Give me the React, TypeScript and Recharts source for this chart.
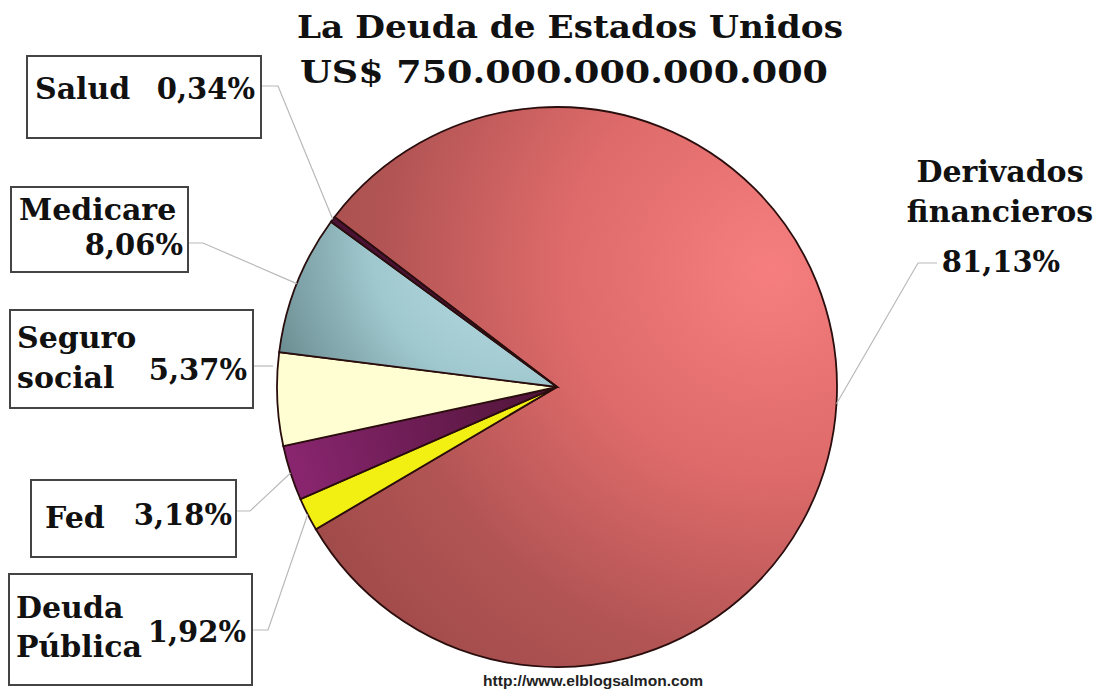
import React from 'react';
import { PieChart, Pie, Cell, Customized } from 'recharts';

// slices, clockwise from the Salud boundary
const sliceNames = ['Derivados financieros', 'Deuda Pública', 'Fed', 'Seguro social', 'Medicare', 'Salud'];
const nameLines = [['Derivados', 'financieros'], ['Deuda', 'Pública'], ['Fed'], ['Seguro', 'social'], ['Medicare'], ['Salud']];
const shares = [81.13, 1.92, 3.18, 5.37, 8.06, 0.34];
const sliceFills = ['url(#gDeriv)', '#f2ef12', 'url(#gFed)', '#fffdd2', 'url(#gMedi)', '#4a1234'];

const titleLines = ['La Deuda de Estados Unidos', 'US$ 750.000.000.000.000'];
const sourceText = 'http://www.elblogsalmon.com';

const data = sliceNames.map((name, i) => ({ name, value: shares[i] }));

const serif = '"DejaVu Serif", Georgia, serif';
const RADIAN = Math.PI / 180;

// label boxes and connector elbows (layout only)
const labelLayout = [
  { box: null, lines: [[1000, 182], [1000, 222]], pct: [1001, 272, 'middle'], from: [937, 263], elbow: [918, 263], toSlice: true },
  { box: [9, 574, 243, 111], lines: [[16, 618], [16, 657]], pct: [246, 642, 'end'], from: [252, 630], elbow: [268, 630], toSlice: true },
  { box: [31, 480, 205, 77], lines: [[45, 528]], pct: [232, 525, 'end'], from: [236, 511], elbow: [250, 511], toSlice: true },
  { box: [10, 310, 243, 98], lines: [[17, 348], [17, 388]], pct: [247, 380, 'end'], from: [253, 366], elbow: [273, 366], toSlice: false },
  { box: [11, 187, 177, 85], lines: [[19, 220]], pct: [183, 255, 'end'], from: [188, 243], elbow: [203, 243], toSlice: true },
  { box: [27, 56, 234, 82], lines: [[35, 99]], pct: [255, 99, 'end'], from: [261, 86], elbow: [278, 86], toSlice: true },
];

const fmtPct = (v: number) => v.toFixed(2).replace('.', ',') + '%';

const renderLabel = (props: any) => {
  const { cx, cy, midAngle, outerRadius, index, value } = props;
  const lay = labelLayout[index];
  const px = cx + outerRadius * Math.cos(-midAngle * RADIAN);
  const py = cy + outerRadius * Math.sin(-midAngle * RADIAN);
  const pts = [lay.from, lay.elbow];
  if (lay.toSlice) pts.push([px, py]);
  return (
    <g key={`lab-${index}`}>
      <polyline points={pts.map((p) => p.join(',')).join(' ')} fill="none" stroke="#b9b9b9" strokeWidth={1.2} />
      {lay.box && (
        <rect x={lay.box[0]} y={lay.box[1]} width={lay.box[2]} height={lay.box[3]} fill="#fff" stroke="#444" strokeWidth={2} />
      )}
      {nameLines[index].map((t, j) => (
        <text key={j} x={lay.lines[j][0]} y={lay.lines[j][1]} textAnchor={index === 0 ? 'middle' : 'start'}
          fontFamily={serif} fontWeight="bold" fontSize={30} fill="#111">
          {t}
        </text>
      ))}
      <text x={lay.pct[0] as number} y={lay.pct[1] as number} textAnchor={lay.pct[2] as any}
        fontFamily={serif} fontWeight="bold" fontSize={29} fill="#111">
        {fmtPct(value)}
      </text>
    </g>
  );
};

const Decor = () => (
  <g>
    <text x={297} y={38} textLength={546} lengthAdjust="spacingAndGlyphs" fontFamily={serif} fontWeight="bold" fontSize={32} fill="#111">
      {titleLines[0]}
    </text>
    <text x={300} y={83} textLength={528} lengthAdjust="spacingAndGlyphs" fontFamily={serif} fontWeight="bold" fontSize={32} fill="#111">
      {titleLines[1]}
    </text>
    <text x={483} y={686} textLength={220} lengthAdjust="spacingAndGlyphs" fontFamily='"Liberation Sans", Arial, sans-serif' fontWeight="bold" fontSize={15} fill="#222">
      {sourceText}
    </text>
  </g>
);

export default function App() {
  return (
    <div style={{ width: 1103, height: 690, background: '#fff', position: 'relative' }}>
      <style>{'body{margin:0}'}</style>
      <svg width={0} height={0} style={{ position: 'absolute' }}>
        <defs>
          <radialGradient id="gDeriv" gradientUnits="userSpaceOnUse" cx={770} cy={270} r={520}>
            <stop offset="0" stopColor="#f67e7e" />
            <stop offset="0.4" stopColor="#de6a6a" />
            <stop offset="0.75" stopColor="#b25454" />
            <stop offset="1" stopColor="#a24b4b" />
          </radialGradient>
          <radialGradient id="gMedi" gradientUnits="userSpaceOnUse" cx={520} cy={240} r={300}>
            <stop offset="0" stopColor="#bde0e6" />
            <stop offset="0.5" stopColor="#9fc8ce" />
            <stop offset="1" stopColor="#5c7c80" />
          </radialGradient>
          <linearGradient id="gFed" gradientUnits="userSpaceOnUse" x1={280} y1={470} x2={552} y2={382}>
            <stop offset="0" stopColor="#8c2672" />
            <stop offset="1" stopColor="#4e1436" />
          </linearGradient>
        </defs>
      </svg>
      <PieChart width={1103} height={690}>
        <Customized component={<Decor />} />
        <Pie
          data={data}
          dataKey="value"
          nameKey="name"
          cx={552}
          cy={382}
          outerRadius={280}
          startAngle={142.6}
          endAngle={-217.4}
          stroke="#2a0d0d"
          strokeWidth={1.8}
          label={renderLabel}
          labelLine={false}
          isAnimationActive={false}
        >
          {data.map((d, i) => (
            <Cell key={d.name} fill={sliceFills[i]} />
          ))}
        </Pie>
      </PieChart>
    </div>
  );
}
